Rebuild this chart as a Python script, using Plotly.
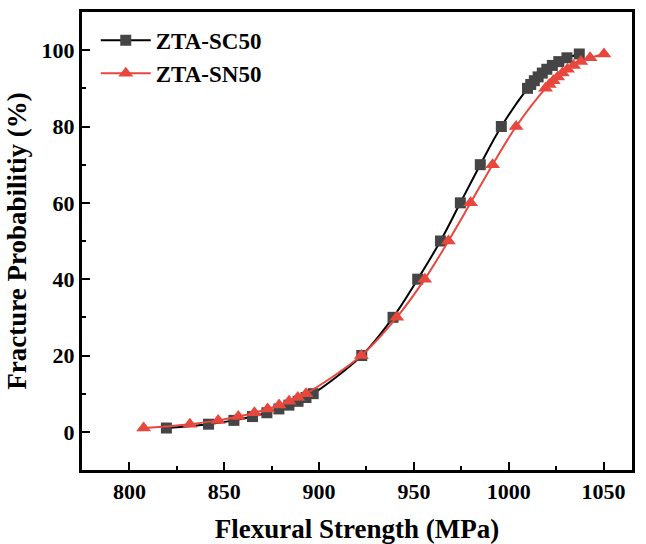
import plotly.graph_objects as go

# Fracture probability levels (%) shared by both materials
probability = [1, 2, 3, 4, 5, 6, 7, 8, 9, 10, 20, 30, 40, 50, 60, 70, 80,
               90, 91, 92, 93, 94, 95, 96, 97, 98, 99]

# Flexural strength (MPa) at each probability level
strength_sc50 = [819.5, 841.7, 855.1, 864.9, 872.5, 878.8, 884.1, 888.9, 893.1,
                 896.9, 922.5, 939.0, 952.0, 964.0, 974.5, 985.0, 996.1,
                 1009.9, 1011.6, 1013.5, 1015.5, 1017.7, 1020.1, 1023.0,
                 1026.4, 1030.7, 1037.2]
strength_sn50 = [807.5, 831.9, 846.8, 857.4, 865.9, 872.9, 878.9, 884.2, 888.8,
                 893.1, 922.3, 941.0, 955.7, 968.2, 979.9, 991.5, 1003.9,
                 1019.4, 1021.4, 1023.5, 1025.8, 1028.3, 1031.0, 1034.2,
                 1038.0, 1042.9, 1050.2]

x_ticks = [800, 850, 900, 950, 1000, 1050]
y_ticks = [0, 20, 40, 60, 80, 100]

FONT = "Liberation Serif"
RED = "#E8473D"

fig = go.Figure()
fig.add_trace(go.Scatter(
    x=strength_sc50, y=probability, name="ZTA-SC50",
    mode="lines+markers", line=dict(color="black", width=2, shape="spline"),
    marker=dict(symbol="square", size=11, color="#454545"),
))
fig.add_trace(go.Scatter(
    x=strength_sn50, y=probability, name="ZTA-SN50",
    mode="lines+markers", line=dict(color=RED, width=2, shape="spline"),
    marker=dict(symbol="triangle-up", size=13, color=RED),
))

axis_common = dict(
    showline=True, linecolor="black", linewidth=3, mirror=True,
    ticks="inside", ticklen=8, tickwidth=2, tickcolor="black",
    showgrid=False, zeroline=False, automargin=False,
    tickfont=dict(family=FONT, size=22, color="black", weight=700),
)

fig.update_layout(
    width=646, height=544,
    margin=dict(l=82, r=14, t=12, b=74),
    paper_bgcolor="white", plot_bgcolor="white",
    showlegend=True,
    legend=dict(
        x=0.025, y=0.985, xanchor="left", yanchor="top",
        bgcolor="rgba(0,0,0,0)", tracegroupgap=0,
        font=dict(family=FONT, size=23, color="black", weight=700),
        itemwidth=50,
    ),
    xaxis=dict(
        range=[775, 1065], tickvals=x_ticks,
        minor=dict(dtick=25, tick0=800, ticklen=4, tickwidth=2,
                   tickcolor="black", ticks="inside"),
        title=dict(text="Flexural Strength (MPa)", standoff=18,
                   font=dict(family=FONT, size=27, color="black", weight=700)),
        **axis_common,
    ),
    yaxis=dict(
        range=[-10, 110], tickvals=y_ticks,
        minor=dict(dtick=10, tick0=0, ticklen=4, tickwidth=2,
                   tickcolor="black", ticks="inside"),
        title=dict(text="Fracture Probabilitiy (%)", standoff=8,
                   font=dict(family=FONT, size=27, color="black", weight=700)),
        **axis_common,
    ),
)

fig.write_html("out.html")
